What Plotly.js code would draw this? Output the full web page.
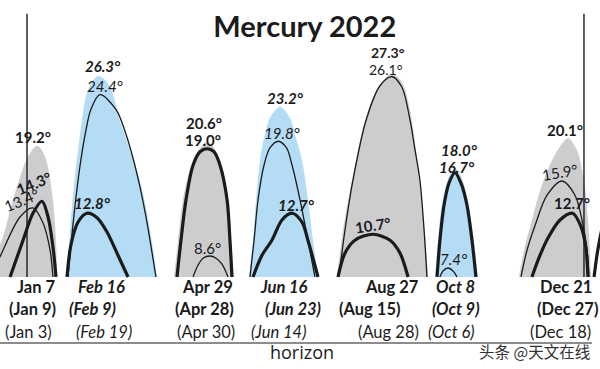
<!DOCTYPE html>
<html>
<head>
<meta charset="utf-8">
<script src="https://cdn.plot.ly/plotly-3.0.1.min.js"></script>
<style>html,body{margin:0;padding:0;background:#fff}#chart{width:600px;height:369px}</style>
</head>
<body>
<div id="chart"></div>
<script>
// x: day of year 2022, y: altitude (deg, as drawn)
// Jan (evening)
const janFillX = [-24.6,-16.7,-13.4,-8.2,-0.3,4.3,7.6,10.8,14.1,18.0,20.0,20.7];
const janFillY = [0,4.3,6.3,10.3,15.2,16.9,17.5,16.9,15.2,10.3,4.9,0];
const janThinX = [-23.2,-16.7,-3.6,4.9,11.5,16.1,18.0];
const janThinY = [0,2.7,8.0,9.2,7.2,3.6,0];
const janThickX = [-10.1,-1.6,4.9,10.8,14.8,18.0,20.0];
const janThickY = [0,4.9,8.5,10.1,8.0,4.0,0];
// Feb (morning)
const febFillX = [27.2,29.2,31.8,34.4,37.0,39.7,43.6,47.5,52.1,56.7,61.9,68.5,75.7,81.6,86.2];
const febFillY = [0,6.3,12.3,16.9,20.9,24.1,26.0,26.8,26.3,24.7,20.9,16.9,12.3,6.3,0];
const febThinX = [27.9,29.8,31.8,34.1,36.3,39.3,42.8,48.8,59.4,65.6,70.8,74.7,78.7,82.1,85.5];
const febThinY = [0,4.3,8.3,12.3,15.6,19.2,22.3,24.3,22.3,19.2,15.6,12.3,8.3,4.3,0];
const febThickX = [27.2,29.8,34.4,40.3,46.9,53.4,60.6,67.2];
const febThickY = [0,4.3,7.3,8.5,7.9,6.0,2.9,0];
// Apr (evening)
const aprFillX = [97.3,100.0,103.2,107.8,114.4,119.0,123.5,128.8,132.7,134.7,136.6];
const aprFillY = [0,4.9,10.3,14.3,17.2,18.0,17.2,14.3,10.3,4.9,0];
const aprThickX = [99.3,101.9,105.2,109.8,114.4,119.0,123.5,127.5,132.1,134.0,135.3];
const aprThickY = [0,4.9,10.3,14.9,16.7,17.1,16.7,14.9,10.3,4.9,0];
const aprThinX = [109.8,113.1,116.3,120.9,124.9,128.8,132.7];
const aprThinY = [0,1.6,2.5,2.8,2.5,1.7,0];
// Jun (morning)
const junFillX = [146.5,149.1,151.1,153.7,156.3,160.2,166.8,173.3,177.3,181.2,185.1,188.4,191.7];
const junFillY = [0,4.9,10.3,15.6,18.5,21.2,22.7,21.2,18.5,15.6,10.3,4.9,0];
const junThinX = [147.1,149.8,152.4,156.3,160.2,165.8,171.1,174.7,179.9,185.1,189.7];
const junThinY = [0,4.9,10.3,14.9,17.2,18.1,17.2,14.9,10.3,4.9,0];
const junThickX = [149.1,155.0,161.5,168.1,174.7,181.2,185.1,188.4,191.7];
const junThickY = [0,2.9,4.9,7.6,8.5,7.3,4.9,2.5,0];
// Aug (evening)
const augFillX = [204.1,208.1,214.0,222.5,231.0,240.2,246.7,252.0,255.9,259.2,261.8,263.8];
const augFillY = [0,6.3,12.9,20.9,25.2,27.1,26.0,22.3,16.9,11.6,5.6,0];
const augThinX = [205.4,209.4,214.6,223.2,232.3,240.2,246.7,252.0,255.3,258.5,261.2,263.1];
const augThinY = [0,6.3,12.9,20.9,25.5,26.7,25.3,20.9,16.9,12.9,6.3,0];
const augThickX = [204.8,209.4,215.9,227.7,238.9,245.4,250.7];
const augThickY = [0,3.2,4.9,5.7,4.9,3.2,0];
// Oct (morning)
const octFillX = [268.4,270.3,272.3,275.6,278.2,281.5,284.7,287.4,290.7,293.9,296.5];
const octFillY = [0,4.9,8.9,12.3,13.7,14.5,13.7,12.3,9.2,4.9,0];
const octThickX = [269.7,271.6,274.3,277.5,281.5,285.4,289.3,292.6,295.2];
const octThickY = [0,4.9,9.6,12.5,13.9,12.5,9.6,4.9,0];
const octThinX = [271.6,273.6,276.9,280.2,282.8];
const octThinY = [0,0.8,1.2,0.8,0];
// Dec (evening)
const decFillX = [323.4,326.7,331.9,338.5,347.0,355.5,361.4,366.0,368.6,370.6];
const decFillY = [0,3.6,7.6,12.3,16.3,18.5,16.9,12.9,7.6,0];
const decThinX = [324.7,328.7,334.0,341.8,351.6,360.1,364.7,368.0,369.3];
const decThinY = [0,3.6,6.9,10.9,12.8,10.9,7.6,3.6,0];
const decThickX = [331.9,337.2,342.4,350.3,358.5,363.7,367.0,368.6];
const decThickY = [0,2.9,5.2,7.6,8.5,6.9,4.3,0];
// start of next apparition (Jan 2023)
const nextThickX = [372.6,374.5,376.5,378.4];
const nextThickY = [0,2.9,5.2,7.0];

// year boundaries
const yearStartDay = 1, yearEndDay = 366, markerTop = 35.1;

// labels
const degTexts = ['19.2°','14.3°','13.4°','26.3°','24.4°','12.8°','20.6°','19.0°','8.6°','23.2°','19.8°','12.7°','27.3°','26.1°','10.7°','18.0°','16.7°','7.4°','20.1°','15.9°','12.7°'];
const greatestElong = ['Jan 7','Feb 16','Apr 29','Jun 16','Aug 27','Oct 8','Dec 21'];
const secondDates = ['(Jan 9)','(Feb 9)','(Apr 28)','(Jun 23)','(Aug 15)','(Oct 9)','(Dec 27)'];
const thirdDates = ['(Jan 3)','(Feb 19)','(Apr 30)','(Jun 14)','(Aug 28)','(Oct 6)','(Dec 18)'];
const morning = [false,true,false,true,false,true,false];

const GRAY = '#cdcdcf', BLUE = '#b4dcf4', INK = '#1b1b1b';
const traces = [];
function fillTr(x, y, c) {
  traces.push({x, y, mode:'lines', fill:'toself', fillcolor:c, line:{width:0, shape:'spline', smoothing:0.9}, hoverinfo:'skip'});
}
function lineTr(x, y, w) {
  traces.push({x, y, mode:'lines', line:{width:w, color:INK, shape:'spline', smoothing:0.9}, hoverinfo:'skip'});
}
fillTr(janFillX, janFillY, GRAY);
fillTr(febFillX, febFillY, BLUE);
fillTr(aprFillX, aprFillY, GRAY);
fillTr(junFillX, junFillY, BLUE);
fillTr(augFillX, augFillY, GRAY);
fillTr(octFillX, octFillY, BLUE);
fillTr(decFillX, decFillY, GRAY);
const thin = 1.3, thick = 3.2;
lineTr(janThinX, janThinY, thin); lineTr(janThickX, janThickY, thick);
lineTr(febThinX, febThinY, thin); lineTr(febThickX, febThickY, thick);
lineTr(aprThinX, aprThinY, thin); lineTr(aprThickX, aprThickY, thick);
lineTr(junThinX, junThinY, thin); lineTr(junThickX, junThickY, thick);
lineTr(augThinX, augThinY, thin); lineTr(augThickX, augThickY, thick);
lineTr(octThinX, octThinY, thin); lineTr(octThickX, octThickY, thick);
lineTr(decThinX, decThinY, thin); lineTr(decThickX, decThickY, thick);
lineTr(nextThickX, nextThickY, thick);
// year marker lines
traces.push({x:[yearStartDay,yearStartDay], y:[0,markerTop], mode:'lines', line:{width:1.4,color:INK}, hoverinfo:'skip'});
traces.push({x:[yearEndDay,yearEndDay], y:[0,markerTop], mode:'lines', line:{width:1.4,color:INK}, hoverinfo:'skip'});
// horizon line
traces.push({x:[-16.7,371.2], y:[-8.8,-8.8], mode:'lines', line:{width:1.2,color:INK}, hoverinfo:'skip'});

// label layout: [x, y, bold, italic, angle, size]
const degPos = [
  [4.9,18.6,1,0,0,15],[5.8,12.5,1,0,-22,15],[-2.6,10.2,0,0,-22,15],
  [50.8,28.1,1,1,0,15],[52.1,25.4,0,1,0,15],[43.6,9.9,1,1,0,15],
  [117.0,20.5,1,0,0,15],[116.3,18.2,1,0,0,15],[119.6,3.9,0,0,0,15],
  [170.1,23.9,1,1,0,15],[168.1,19.2,0,1,0,15],[177.3,9.6,1,1,0,15],
  [237.6,29.9,1,0,0,14],[236.3,27.7,0,0,0,14],[227.7,6.9,1,0,-8,15],
  [284.7,16.9,1,1,0,15],[282.8,14.7,1,1,0,15],[280.2,2.4,0,1,0,15],
  [353.6,19.6,1,0,0,15],[350.3,14.0,0,0,-10,15],[358.1,9.9,1,0,0,15]
];
const row1X = [6.9,50.1,119.6,169.4,240.2,282.1,354.2];
const row2X = [4.3,43.6,117.0,175.3,225.8,282.1,355.5];
const row3X = [1.7,51.5,118.3,166.1,237.6,278.8,350.3];
const FONT = 'Lato, "Noto Sans", sans-serif';
const ann = [];
function lab(text, x, y, bold, italic, angle, size) {
  let t = text;
  if (bold) t = '<b>' + t + '</b>';
  if (italic) t = '<i>' + t + '</i>';
  ann.push({x, y, xref:'x', yref:'y', text:t, showarrow:false, textangle:angle||0,
    font:{family:FONT, size:size, color:INK}, xanchor:'center', yanchor:'middle'});
}
degTexts.forEach((t,i) => { const p = degPos[i]; lab(t, p[0], p[1], p[2], p[3], p[4], p[5]); });
greatestElong.forEach((t,i) => lab(t, row1X[i], -1.33, 1, morning[i], 0, 16.5));
secondDates.forEach((t,i) => lab(t, row2X[i], -4.27, 1, morning[i], 0, 16.5));
thirdDates.forEach((t,i) => lab(t, row3X[i], -7.33, 0, morning[i], 0, 16.5));
ann.push({x:181.2, y:-10.0, xref:'x', yref:'y', text:'horizon', showarrow:false,
  font:{family:'"Open Sans", sans-serif', size:18, color:INK}});
ann.push({x:333.3, y:-9.9, xref:'x', yref:'y', text:'头条 @天文在线', showarrow:false,
  font:{family:'"Noto Sans CJK SC", sans-serif', size:15.5, color:'#333'}});

const layout = {
  width:600, height:369,
  margin:{l:0,r:0,t:0,b:0},
  paper_bgcolor:'#ffffff', plot_bgcolor:'#ffffff',
  showlegend:false,
  title:{text:'<b>Mercury 2022</b>', x:0.508, y:0.927, xanchor:'center', yanchor:'middle',
    font:{family:FONT, size:29, color:INK}},
  xaxis:{range:[-16.7,376.5], visible:false, fixedrange:true},
  yaxis:{range:[-12.27,36.93], visible:false, fixedrange:true},
  annotations:ann
};
Plotly.newPlot('chart', traces, layout, {staticPlot:true, displayModeBar:false});
</script>
</body>
</html>
